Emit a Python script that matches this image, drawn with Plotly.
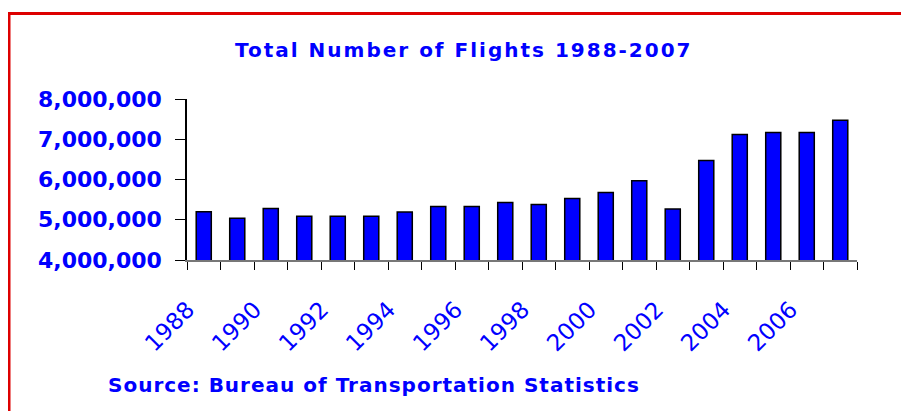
import plotly.graph_objects as go

years = list(range(1988, 2008))
flights = [5200000, 5040000, 5280000, 5090000, 5090000, 5090000, 5190000, 5330000,
           5330000, 5430000, 5380000, 5530000, 5680000, 5970000, 5270000, 6470000,
           7120000, 7170000, 7170000, 7470000]
label_years = years[::2]
label_text = [str(y) for y in label_years]
y_ticks = [4000000, 5000000, 6000000, 7000000, 8000000]

title_text = "Total Number of Flights 1988-2007"
source_text = "Source: Bureau of Transportation Statistics"

BLUE = "#0000FF"
OFF = 8  # default page body margin
W, H = 909 - OFF, 411 - OFF
L, R, T, B = 187 - OFF, 52, 99 - OFF, 151
pw, ph = W - L - R, H - T - B


def px_x(p):
    return (p - OFF - L) / pw


def px_y(p):
    return (H - B - (p - OFF)) / ph


def spaced(s, sp):
    return f'<span style="letter-spacing:{sp}px">{s}</span>'


fig = go.Figure()
fig.add_trace(go.Bar(
    x=years, y=flights, width=0.45,
    marker=dict(color=BLUE, line=dict(color="black", width=1.5)),
    hoverinfo="skip",
))

fig.update_layout(
    width=W, height=H,
    margin=dict(l=L, r=R, t=T, b=B, pad=0),
    paper_bgcolor="white", plot_bgcolor="white",
    showlegend=False,
    font=dict(family="DejaVu Sans", color=BLUE),
    xaxis=dict(
        range=[1987.5, 2007.5],
        tickmode="array",
        tickvals=label_years,
        ticktext=label_text,
        tickangle=-45,
        ticklabelshift=-16,
        ticks="outside", ticklen=25, tickcolor="rgba(0,0,0,0)",
        tickfont=dict(family="DejaVu Sans", size=23, color=BLUE),
        showline=True, linecolor="#777777", linewidth=2,
        showgrid=False, zeroline=False,
        minor=dict(tickmode="linear", tick0=1987.5, dtick=1, ticks="outside",
                   ticklen=8, tickcolor="black", tickwidth=1, showgrid=False),
    ),
    yaxis=dict(
        range=[4000000, 8000000],
        tickmode="array", tickvals=y_ticks,
        tickformat=",",
        ticks="outside", ticklen=10, tickcolor="black", tickwidth=1,
        ticklabelstandoff=9,
        tickfont=dict(family="DejaVu Sans", size=22, color=BLUE, weight="bold"),
        showline=True, linecolor="black", linewidth=1.5,
        showgrid=False, zeroline=False,
    ),
    shapes=[dict(
        type="rect", xref="paper", yref="paper",
        x0=px_x(9), x1=px_x(940), y0=px_y(460), y1=px_y(13.5),
        line=dict(color="#DD0000", width=3), fillcolor="rgba(0,0,0,0)", layer="below",
    )],
    annotations=[
        dict(text=spaced(title_text, 2), xref="paper", yref="paper",
             x=px_x(464), y=px_y(50), xanchor="center", yanchor="middle",
             showarrow=False,
             font=dict(family="DejaVu Sans", size=20, color=BLUE, weight="bold")),
        dict(text=spaced(source_text, 1), xref="paper", yref="paper",
             x=px_x(106), y=px_y(385), xanchor="left", yanchor="middle",
             showarrow=False,
             font=dict(family="DejaVu Sans", size=20, color=BLUE, weight="bold")),
    ],
)

fig.write_html("out.html")
